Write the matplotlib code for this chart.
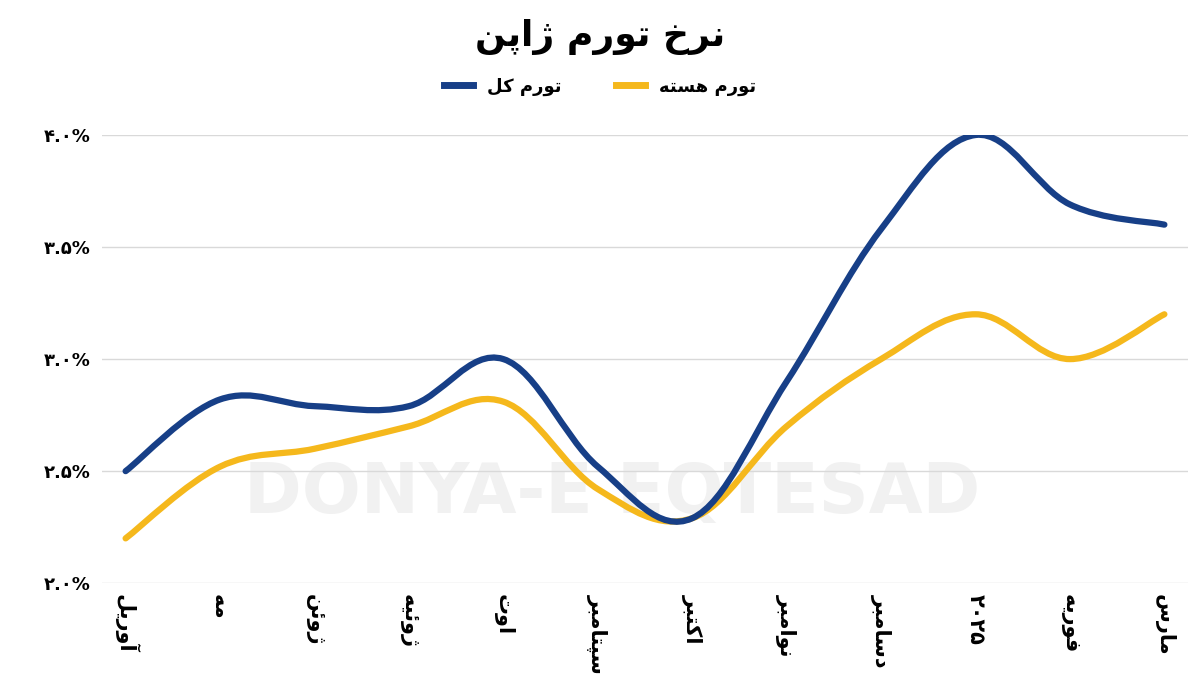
import matplotlib
matplotlib.use("Agg")
import matplotlib.pyplot as plt
from matplotlib.path import Path
from matplotlib.patches import PathPatch
from matplotlib.lines import Line2D
import numpy as np

months = ["آوریل", "مه", "ژوئن", "ژوئیه", "اوت", "سپتامبر", "اکتبر",
          "نوامبر", "دسامبر", "۲۰۲۵", "فوریه", "مارس"]
headline = [2.50, 2.82, 2.79, 2.79, 3.00, 2.52, 2.29, 2.90, 3.58, 4.00, 3.69, 3.60]
core = [2.20, 2.52, 2.60, 2.70, 2.81, 2.42, 2.29, 2.70, 3.00, 3.20, 3.00, 3.20]
yticks = [2.0, 2.5, 3.0, 3.5, 4.0]

BLUE = "#173f87"
GOLD = "#f5b81c"

# minimal Arabic/Persian shaping (isolated, final, initial, medial)
FORMS = {
    "ا": ("\uFE8D", "\uFE8E", None, None), "آ": ("\uFE81", "\uFE82", None, None),
    "ب": ("\uFE8F", "\uFE90", "\uFE91", "\uFE92"), "پ": ("\uFB56", "\uFB57", "\uFB58", "\uFB59"),
    "ت": ("\uFE95", "\uFE96", "\uFE97", "\uFE98"), "خ": ("\uFEA5", "\uFEA6", "\uFEA7", "\uFEA8"),
    "د": ("\uFEA9", "\uFEAA", None, None), "ر": ("\uFEAD", "\uFEAE", None, None),
    "ژ": ("\uFB8A", "\uFB8B", None, None), "س": ("\uFEB1", "\uFEB2", "\uFEB3", "\uFEB4"),
    "ف": ("\uFED1", "\uFED2", "\uFED3", "\uFED4"), "ک": ("\uFB8E", "\uFB8F", "\uFB90", "\uFB91"),
    "ل": ("\uFEDD", "\uFEDE", "\uFEDF", "\uFEE0"), "م": ("\uFEE1", "\uFEE2", "\uFEE3", "\uFEE4"),
    "ن": ("\uFEE5", "\uFEE6", "\uFEE7", "\uFEE8"), "ه": ("\uFEE9", "\uFEEA", "\uFEEB", "\uFEEC"),
    "و": ("\uFEED", "\uFEEE", None, None), "ی": ("\uFBFC", "\uFBFD", "\uFBFE", "\uFBFF"),
    "ئ": ("\uFE89", "\uFE8A", "\uFE8B", "\uFE8C"),
}

def joins_next(c):
    return c in FORMS and FORMS[c][2] is not None

def shape(s):
    out = []
    for i, c in enumerate(s):
        if c not in FORMS:
            out.append(c)
            continue
        prev = s[i - 1] if i > 0 else ""
        nxt = s[i + 1] if i + 1 < len(s) else ""
        left = joins_next(prev)
        right = joins_next(c) and nxt in FORMS
        iso, fin, ini, med = FORMS[c]
        if left and right:
            out.append(med)
        elif left:
            out.append(fin)
        elif right:
            out.append(ini)
        else:
            out.append(iso)
    if any(ch in FORMS for ch in s):
        return "".join(out)[::-1]
    return s

def fa_digits(t):
    return t.translate(str.maketrans("0123456789.", "۰۱۲۳۴۵۶۷۸۹."))

def smooth_path(xs, ys, k=0.18):
    verts = [(xs[0], ys[0])]
    codes = [Path.MOVETO]
    n = len(xs)
    for i in range(n - 1):
        p0 = (xs[max(i - 1, 0)], ys[max(i - 1, 0)])
        p1 = (xs[i], ys[i]); p2 = (xs[i + 1], ys[i + 1])
        p3 = (xs[min(i + 2, n - 1)], ys[min(i + 2, n - 1)])
        c1 = (p1[0] + (p2[0] - p0[0]) * k, p1[1] + (p2[1] - p0[1]) * k)
        c2 = (p2[0] - (p3[0] - p1[0]) * k, p2[1] - (p3[1] - p1[1]) * k)
        verts += [c1, c2, p2]
        codes += [Path.CURVE4] * 3
    return Path(verts, codes)

plt.rcParams["font.family"] = ["DejaVu Sans"]
fig = plt.figure(figsize=(12, 6.75), dpi=100)
ax = fig.add_axes([0.085, 0.136, 0.905, 0.664])
x = np.arange(len(months))

ax.text(0.47, 0.2, "DONYA-E EQTESAD", transform=ax.transAxes, ha="center",
        va="center", fontsize=50, fontweight="bold", color="#f1f1f1", zorder=0)

for vals, col in [(core, GOLD), (headline, BLUE)]:
    ax.add_patch(PathPatch(smooth_path(x, vals), fill=False, edgecolor=col,
                           lw=4.5, capstyle="round", zorder=3))

ax.set_xlim(-0.25, 11.25)
ax.set_ylim(2.0, 4.0)
ax.set_yticks(yticks)
ax.set_yticklabels([fa_digits(f"{v:.1f}") + "%" for v in yticks],
                   fontsize=13, fontweight="bold")
ax.set_xticks(x)
ax.set_xticklabels([shape(m) for m in months], rotation=-90, fontsize=15,
                   fontweight="bold", va="top")
ax.grid(axis="y", color="#d9d9d9", lw=1, zorder=1)
ax.set_axisbelow(True)
ax.tick_params(length=0, pad=8)
for s in ax.spines.values():
    s.set_visible(False)

fig.text(0.5, 0.945, shape("نرخ تورم ژاپن"), ha="center", va="center",
         fontsize=26, fontweight="bold")
handles = [Line2D([], [], color=BLUE, lw=5), Line2D([], [], color=GOLD, lw=5)]
fig.legend(handles, [shape("تورم کل"), shape("تورم هسته")], loc="center",
           bbox_to_anchor=(0.5, 0.872), ncol=2, frameon=False,
           prop={"size": 13, "weight": "bold"}, handlelength=1.6,
           columnspacing=3)

fig.savefig("out.png", dpi=100)
